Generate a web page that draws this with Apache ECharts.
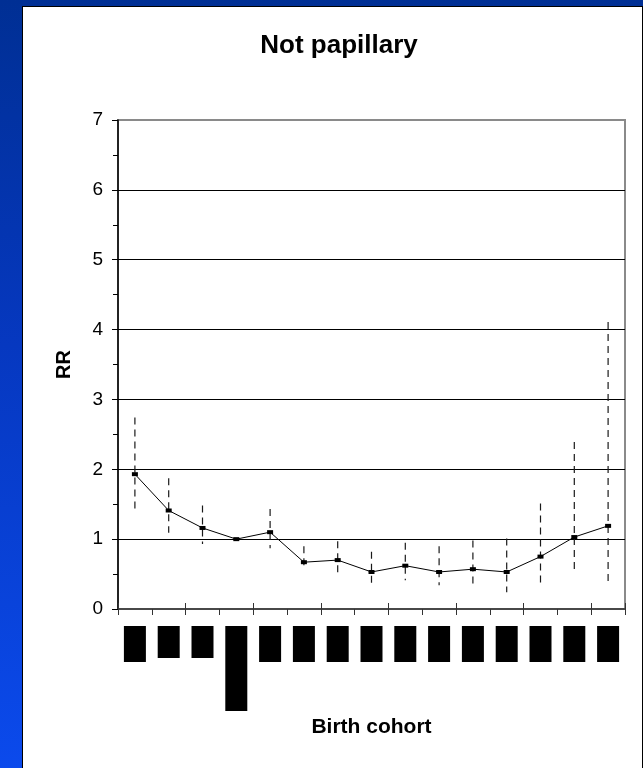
<!DOCTYPE html>
<html>
<head>
<meta charset="utf-8">
<script src="https://cdn.jsdelivr.net/npm/echarts@6/dist/echarts.min.js"></script>
<style>
  html, body { margin: 0; padding: 0; width: 643px; height: 768px; overflow: hidden;
    background: linear-gradient(to bottom, #002f94 0%, #0638c0 45%, #0b4aec 100%); }
  #panel { position: absolute; left: 22px; top: 6px; width: 619px; height: 764px;
    background: #fff; border-left: 1px solid #000; border-top: 1px solid #000; border-right: 1px solid #000; }
  #chart { position: absolute; left: 0; top: 0; width: 643px; height: 768px; }
</style>
</head>
<body>
<div id="panel"></div>
<div id="chart"></div>
<script>
// Birth cohorts (category axis)
const cohorts = ['1915-19', '1920-24', '1925-29', '1930-34', '1935-39', '1940-44', '1945-49',
  '1950-54', '1955-59', '1960-64', '1965-69', '1970-74', '1975-79', '1980-84', '1985-89'];
// Relative risk per cohort, with 95% confidence limits (reference cohort has none)
const rr      = [1.93, 1.41, 1.16, 1.00, 1.10, 0.67, 0.70, 0.53, 0.62, 0.53, 0.57, 0.53, 0.75, 1.03, 1.19];
const ciLow   = [1.37, 1.09, 0.93, null, 0.87, 0.57, 0.46, 0.36, 0.41, 0.34, 0.31, 0.24, 0.36, 0.51, 0.33];
const ciHigh  = [2.74, 1.87, 1.48, null, 1.43, 0.90, 0.97, 0.82, 0.95, 0.90, 0.98, 1.01, 1.51, 2.39, 4.11];
// Y-axis tick labels
const yTicks = ['0', '1', '2', '3', '4', '5', '6', '7'];

// label box style per cohort (short / normal / tall blocks)
const labelStyleKey = ['n', 's', 's', 't', 'n', 'n', 'n', 'n', 'n', 'n', 'n', 'n', 'n', 'n', 'n'];

const ciData = cohorts.map((c, i) => [i, ciLow[i], ciHigh[i]]).filter(d => d[1] != null);

const chart = echarts.init(document.getElementById('chart'), null, { renderer: 'canvas' });
const font = '"Liberation Sans", Arial, sans-serif';
const box = (h) => ({ width: 22, height: h, backgroundColor: '#000', color: '#000', fontSize: 5, align: 'center', verticalAlign: 'top' });

chart.setOption({
  backgroundColor: 'transparent',
  animation: false,
  title: {
    text: 'Not papillary',
    left: 334, top: 28, textAlign: 'center',
    textStyle: { fontFamily: font, fontSize: 26, fontWeight: 'bold', color: '#000' }
  },
  grid: { left: 118, right: 18, top: 120, bottom: 159, show: true, borderColor: '#8a8a8a', borderWidth: 2, backgroundColor: 'transparent' },
  xAxis: [{
    type: 'category', data: cohorts, boundaryGap: true,
    name: 'Birth cohort', nameLocation: 'middle', nameGap: 108,
    nameTextStyle: { fontFamily: font, fontSize: 21, fontWeight: 'bold', color: '#000' },
    axisLine: { lineStyle: { color: '#333', width: 1.5 } },
    axisTick: { show: true, length: 6, lineStyle: { color: '#333' } },
    axisLabel: {
      interval: 0, margin: 17, hideOverlap: false,
      formatter: (v, i) => '{' + labelStyleKey[i] + '|' + v + '}',
      rich: { n: box(36), s: box(32), t: box(85) }
    },
    splitLine: { show: false }
  }, {
    type: 'category', data: cohorts, boundaryGap: true, position: 'bottom',
    axisLine: { show: false },
    axisTick: { show: true, inside: true, length: 6, lineStyle: { color: '#333' } },
    axisLabel: { show: false },
    splitLine: { show: false }
  }],
  yAxis: {
    type: 'value', min: 0, max: 7, interval: 1,
    name: 'RR', nameLocation: 'middle', nameRotate: 90, nameGap: 44,
    nameTextStyle: { fontFamily: font, fontSize: 20, fontWeight: 'bold', color: '#000' },
    axisLine: { show: true, lineStyle: { color: '#000', width: 1.5 } },
    axisTick: { show: true, length: 6, lineStyle: { color: '#000' } },
    minorTick: { show: true, splitNumber: 2, length: 5, lineStyle: { color: '#000' } },
    axisLabel: { margin: 15, fontFamily: font, fontSize: 19, color: '#000',
      formatter: (v) => yTicks[Math.round(v)] },
    splitLine: { show: true, showMinLine: false, showMaxLine: false, lineStyle: { color: '#000', width: 1 } }
  },
  series: [{
    type: 'custom',
    xAxisIndex: 0,
    data: ciData,
    renderItem: (params, api) => {
      const hi = api.coord([api.value(0), api.value(2)]);
      const lo = api.coord([api.value(0), api.value(1)]);
      return {
        type: 'line',
        shape: { x1: hi[0], y1: hi[1], x2: lo[0], y2: lo[1] },
        style: { stroke: '#1a1a1a', lineWidth: 1.2, lineDash: [7, 5] }
      };
    },
    z: 2
  }, {
    type: 'line',
    xAxisIndex: 0,
    data: rr,
    symbol: 'rect', symbolSize: [6, 4],
    itemStyle: { color: '#000' },
    lineStyle: { color: '#000', width: 1 },
    z: 3
  }]
});
</script>
</body>
</html>
